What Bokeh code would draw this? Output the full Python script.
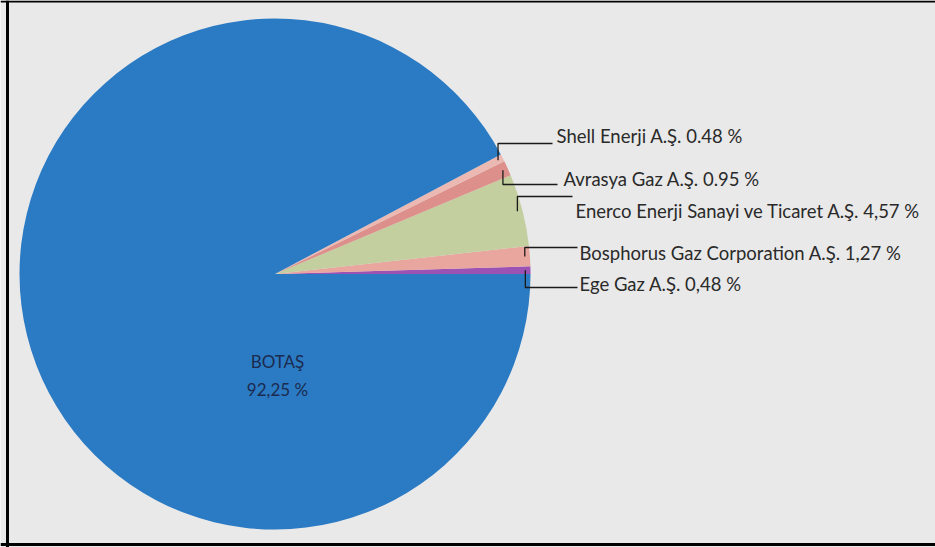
import numpy as np
from bokeh.plotting import figure
from bokeh.models import Range1d, ColumnDataSource, Span
from bokeh.core.properties import value
from bokeh.embed import file_html
from bokeh.resources import INLINE

# ---- data (counter-clockwise from 3 o'clock) ----
companies = ["Ege Gaz A.Ş.", "Bosphorus Gaz Corporation A.Ş.",
             "Enerco Enerji Sanayi ve Ticaret A.Ş.", "Avrasya Gaz A.Ş.",
             "Shell Enerji A.Ş.", "BOTAŞ"]
shares = [0.48, 1.27, 4.57, 0.95, 0.48, 92.25]
share_texts = ["0,48 %", "1,27 %", "4,57 %", "0.95 %", "0.48 %", "92,25 %"]
colors = ["#9c52b4", "#e9a69e", "#c3cf9f", "#dd908b", "#ebb8b2", "#2b7bc4"]

# ---- layout ----
W, H = 935, 547
OX, OY = 0, H            # screen -> data helpers
def dx(px): return px - OX
def dy(py): return OY - py

cx, cy, R = dx(274.5), dy(273.5), 255.5

p = figure(width=W, height=H, x_range=Range1d(0, W), y_range=Range1d(0, H),
           output_backend="svg", toolbar_location=None, min_border=0)
p.axis.visible = False
p.grid.visible = False
p.background_fill_color = "#e9e9e9"
p.border_fill_color = "#e9e9e9"
p.outline_line_color = None

frac = np.array(shares) / sum(shares)
ends = np.cumsum(frac) * 2 * np.pi
starts = ends - frac * 2 * np.pi
p.wedge(x=cx, y=cy, radius=R, start_angle=starts, end_angle=ends,
        fill_color=colors, line_color=None)

# leader lines and labels for the small slices
line_y = [287, 247, 196, 184, 143]
line_end = [577, 577, 572, 557, 552]
text_x = [579, 579, 575, 563, 556]
text_mid = [283, 252, 210, 178, 135]

mids = (starts + ends) / 2
xs, ys = [], []
for i in range(5):
    ax = cx + 0.98 * R * np.cos(mids[i])
    ay = cy + 0.98 * R * np.sin(mids[i])
    xs.append([ax, ax, dx(line_end[i])])
    ys.append([ay, dy(line_y[i]), dy(line_y[i])])
p.multi_line(xs=xs, ys=ys, line_color="#1a1a1a", line_width=1.3)

labels = [f"{c} {s}" for c, s in zip(companies[:5], share_texts[:5])]
src = ColumnDataSource(dict(x=[dx(v) for v in text_x], y=[dy(v) for v in text_mid], t=labels))
p.text(x="x", y="y", text="t", source=src, text_font=value("Lato"),
       text_font_size="18.5px", text_color="#2a2a2a", text_baseline="middle",
       text_align="left")

# main slice label
p.text(x=[dx(277), dx(277)], y=[dy(361), dy(389)], text=[companies[5], share_texts[5]],
       text_font=value("Lato"), text_font_size="17px", text_color="#1b2a4e",
       text_baseline="middle", text_align="center")

# frame (left, top, bottom)
p.add_layout(Span(location=dx(7), dimension="height", line_color="black", line_width=3))
p.add_layout(Span(location=dy(1), dimension="width", line_color="black", line_width=2))
p.add_layout(Span(location=dy(544), dimension="width", line_color="black", line_width=3))

open("out.html", "w").write(file_html(p, INLINE))
